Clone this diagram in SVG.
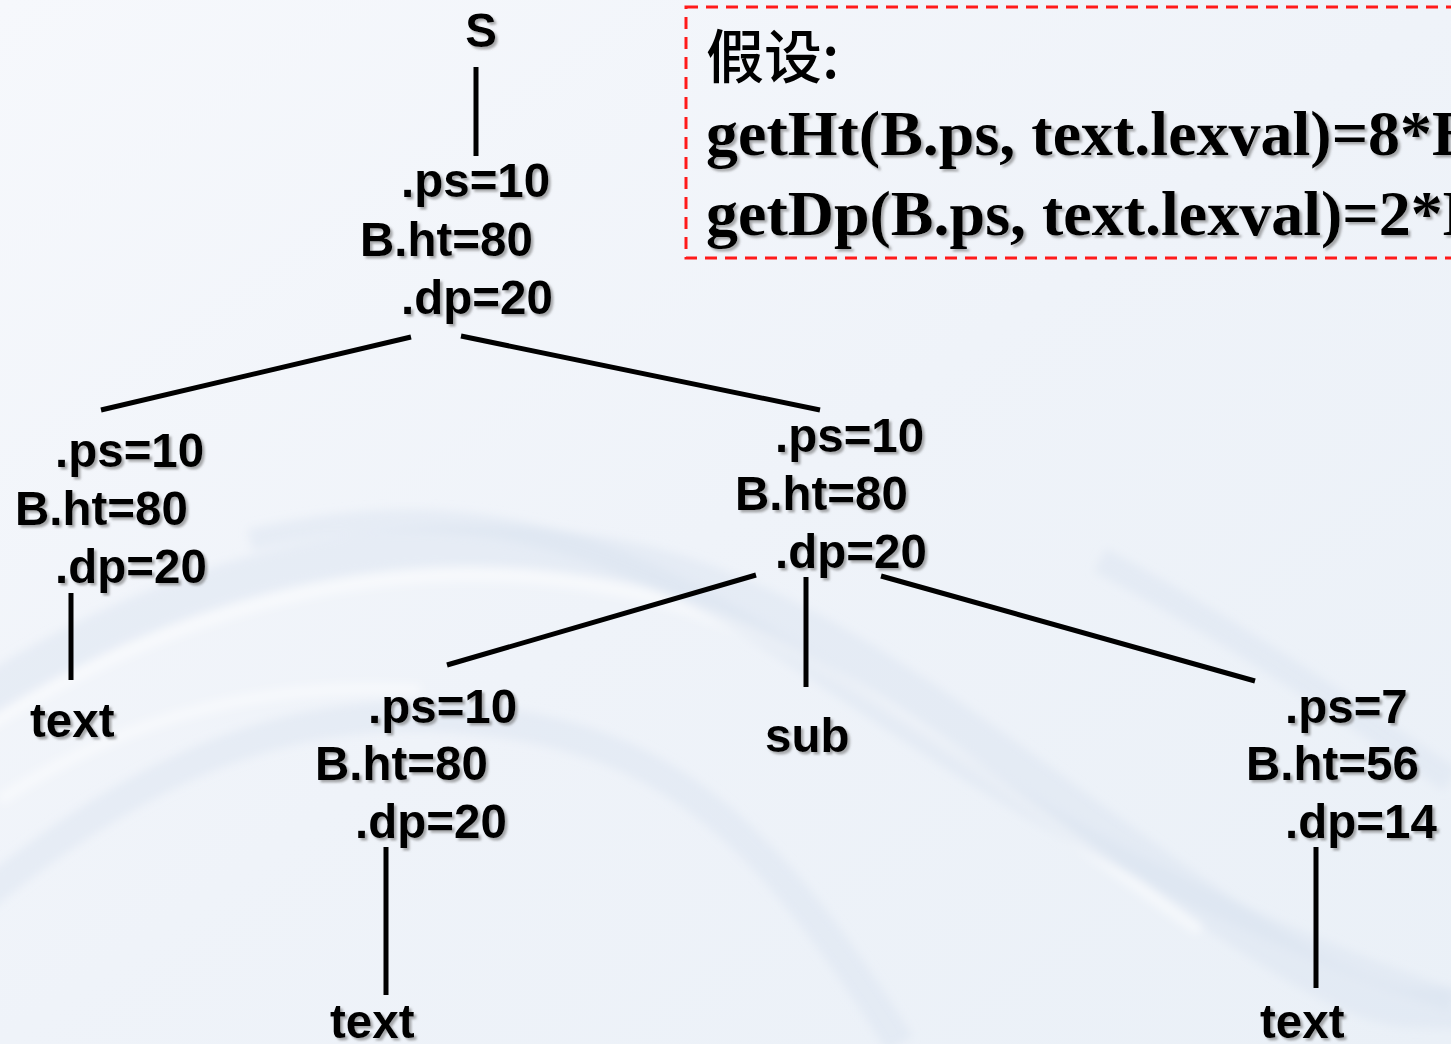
<svg xmlns="http://www.w3.org/2000/svg" width="1451" height="1044" viewBox="0 0 1451 1044">
  <defs>
    <linearGradient id="bg" x1="0" y1="0" x2="1" y2="1">
      <stop offset="0" stop-color="#f6f8fc"/>
      <stop offset="0.5" stop-color="#eff3f9"/>
      <stop offset="1" stop-color="#eaf0f7"/>
    </linearGradient>
    <filter id="shadow" x="-10%" y="-20%" width="130%" height="150%">
      <feDropShadow dx="2.5" dy="2.5" stdDeviation="1" flood-color="#666" flood-opacity="0.55"/>
    </filter>
    <filter id="soft" x="-20%" y="-20%" width="140%" height="140%">
      <feGaussianBlur stdDeviation="5"/>
    </filter>
  </defs>
  <style>
    .lbl { font-family: "Liberation Sans", Arial, sans-serif; font-weight: bold; font-size: 47.5px; fill: #000; filter: url(#shadow); }
    .note { font-family: "Liberation Serif", "Noto Sans CJK SC", serif; font-weight: bold; font-size: 64px; fill: #000; }
    .cjk { font-family: "Noto Sans CJK SC", sans-serif; font-weight: 500; font-size: 58px; fill: #000; }
    .edge { stroke: #000; stroke-width: 5; fill: none; }
    .wave { fill: none; stroke: #d9e3ef; stroke-opacity: 0.45; }
    .wave-w { fill: none; stroke: #ffffff; stroke-opacity: 0.5; }
  </style>

  <!-- background with soft swooshes -->
  <rect width="1451" height="1044" fill="url(#bg)"/>
  <g filter="url(#soft)">
    <path class="wave" stroke-width="40" d="M -20 700 C 200 560, 420 520, 620 560 S 1000 760, 1200 900 S 1400 1000, 1480 1010"/>
    <path class="wave-w" stroke-width="12" d="M -20 730 C 200 590, 420 550, 620 590 S 1000 790, 1200 930"/>
    <path class="wave" stroke-width="22" d="M 250 540 C 420 500, 560 520, 720 610 S 1050 860, 1451 1000"/>
    <path class="wave" stroke-width="30" d="M -20 900 C 150 760, 300 700, 480 720 S 760 820, 900 1044"/>
    <path class="wave-w" stroke-width="10" d="M 0 800 C 120 720, 260 680, 420 690"/>
    <path class="wave" stroke-width="26" d="M 1100 560 C 1250 640, 1360 720, 1451 780"/>
  </g>

  <!-- assumption box -->
  <g id="note">
    <rect x="686" y="7" width="800" height="251" fill="none" stroke="#ff1a1a" stroke-width="3" stroke-dasharray="12 8"/>
    <text class="cjk" x="706" y="78">假设:</text>
    <text class="note" x="706" y="155" filter="url(#shadow)">getHt(B.ps, text.lexval)=8*B</text>
    <text class="note" x="706" y="235" filter="url(#shadow)">getDp(B.ps, text.lexval)=2*B</text>
  </g>

  <!-- connectors -->
  <g id="edges">
    <line class="edge" x1="476" y1="67" x2="476" y2="156"/>
    <line class="edge" x1="411" y1="337" x2="101" y2="410"/>
    <line class="edge" x1="461" y1="336" x2="820" y2="410"/>
    <line class="edge" x1="71" y1="593" x2="71" y2="680"/>
    <line class="edge" x1="756" y1="575" x2="447" y2="665"/>
    <line class="edge" x1="806" y1="577" x2="806" y2="687"/>
    <line class="edge" x1="881" y1="576" x2="1255" y2="681"/>
    <line class="edge" x1="386" y1="847" x2="386" y2="995"/>
    <line class="edge" x1="1316" y1="847" x2="1316" y2="988"/>
  </g>

  <!-- nodes -->
  <g id="n-S"><text class="lbl" x="481" y="47" text-anchor="middle">S</text></g>

  <g id="n-B-root">
    <text class="lbl" x="401" y="197">.ps=10</text>
    <text class="lbl" x="360" y="256">B.ht=80</text>
    <text class="lbl" x="401" y="314">.dp=20</text>
  </g>

  <g id="n-B-left">
    <text class="lbl" x="55" y="467">.ps=10</text>
    <text class="lbl" x="15" y="525">B.ht=80</text>
    <text class="lbl" x="55" y="583">.dp=20</text>
  </g>

  <g id="n-text-1"><text class="lbl" x="30" y="737">text</text></g>

  <g id="n-B-right">
    <text class="lbl" x="775" y="452">.ps=10</text>
    <text class="lbl" x="735" y="510">B.ht=80</text>
    <text class="lbl" x="775" y="568">.dp=20</text>
  </g>

  <g id="n-B-mid">
    <text class="lbl" x="368" y="723">.ps=10</text>
    <text class="lbl" x="315" y="780">B.ht=80</text>
    <text class="lbl" x="355" y="838">.dp=20</text>
  </g>

  <g id="n-sub"><text class="lbl" x="765" y="752">sub</text></g>

  <g id="n-B-last">
    <text class="lbl" x="1285" y="723">.ps=7</text>
    <text class="lbl" x="1246" y="780">B.ht=56</text>
    <text class="lbl" x="1285" y="838">.dp=14</text>
  </g>

  <g id="n-text-2"><text class="lbl" x="330" y="1038">text</text></g>
  <g id="n-text-3"><text class="lbl" x="1260" y="1038">text</text></g>
</svg>
